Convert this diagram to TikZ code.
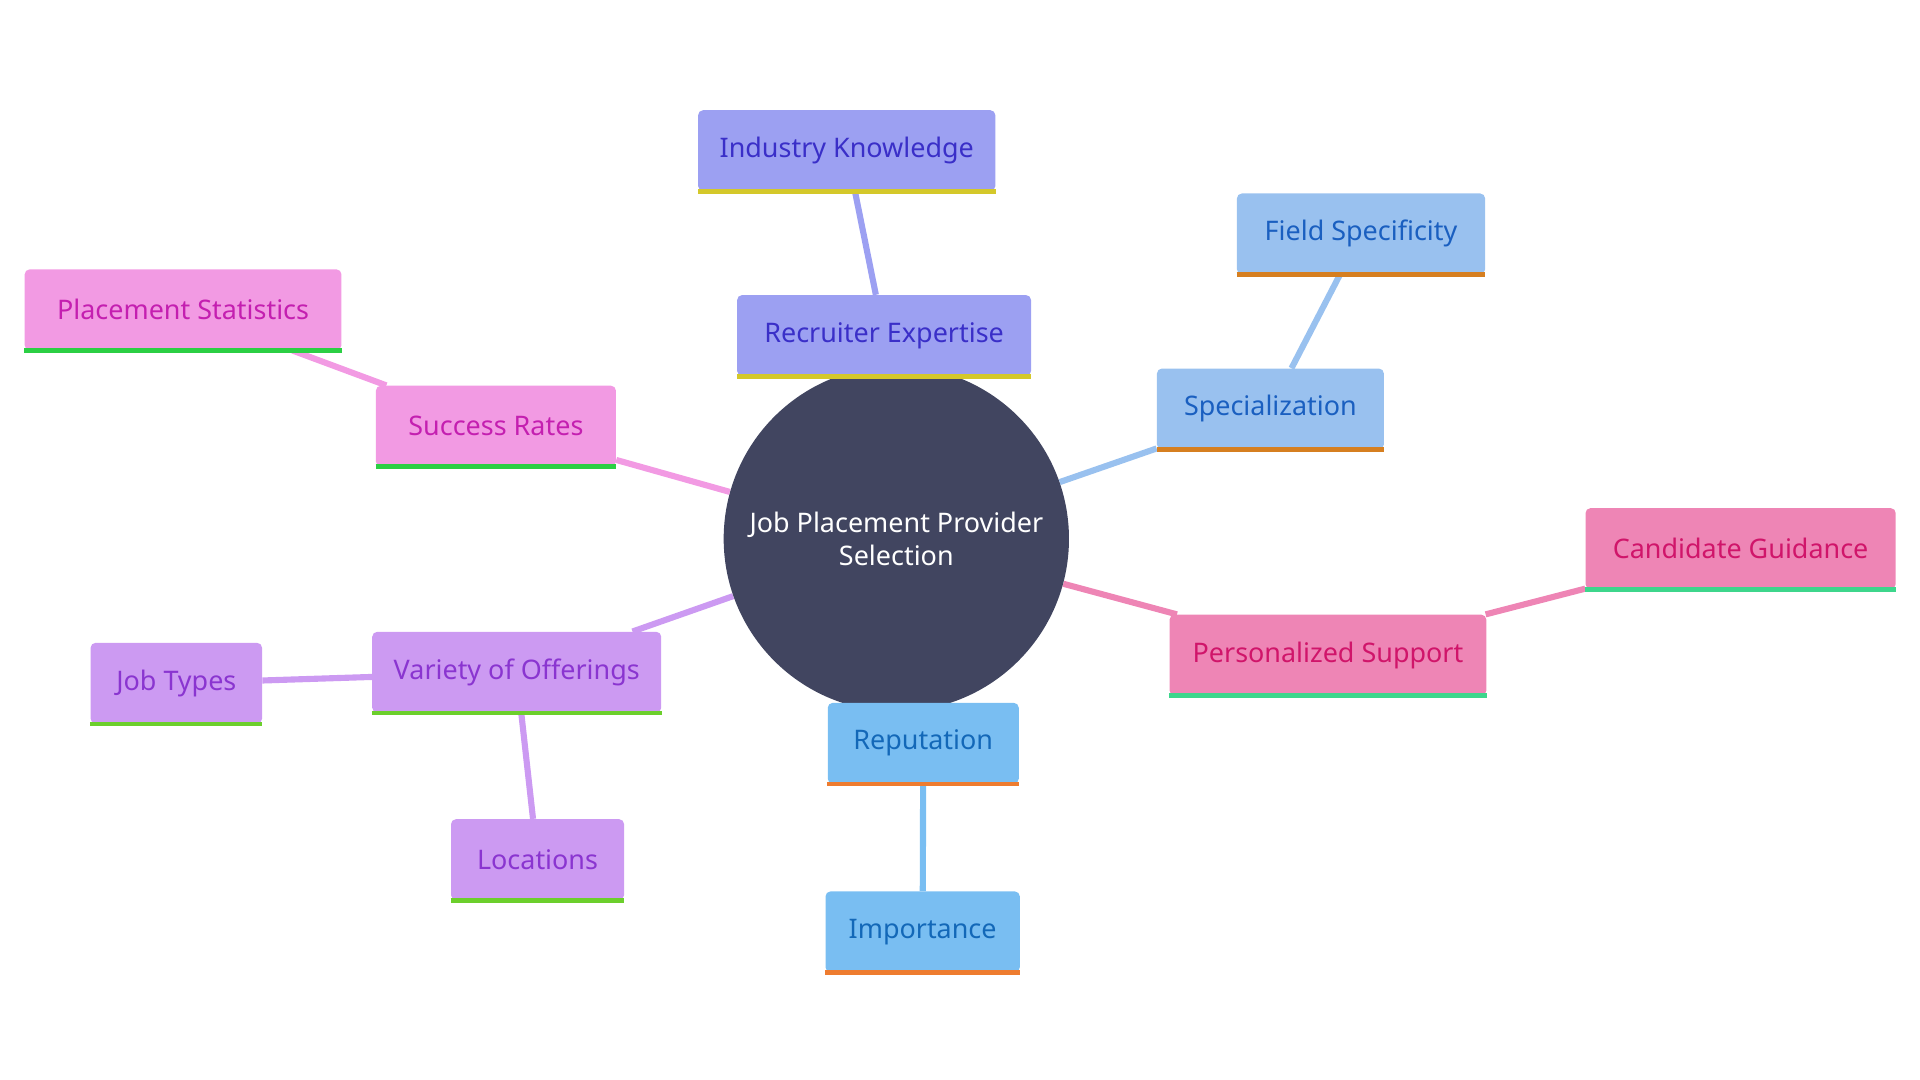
\documentclass[tikz,border=0pt]{standalone}
\usepackage{fontspec}
\setmainfont{Noto Sans}
\usetikzlibrary{backgrounds}
\definecolor{hub}{HTML}{414560}
\definecolor{bluF}{HTML}{9CA0F2}\definecolor{bluT}{HTML}{3A2FC8}\definecolor{bluL}{HTML}{D4C82A}
\definecolor{skyF}{HTML}{99C1EF}\definecolor{skyT}{HTML}{1A5FC0}\definecolor{skyL}{HTML}{D67F20}
\definecolor{pnkF}{HTML}{EE85B5}\definecolor{pnkT}{HTML}{D0156A}\definecolor{pnkL}{HTML}{3DD68C}
\definecolor{repF}{HTML}{79BEF2}\definecolor{repT}{HTML}{1368B8}\definecolor{repL}{HTML}{EE7C2F}
\definecolor{vioF}{HTML}{CC9AF2}\definecolor{vioT}{HTML}{8A35D0}\definecolor{vioL}{HTML}{6CCF2C}
\definecolor{magF}{HTML}{F29AE3}\definecolor{magT}{HTML}{C41FB0}\definecolor{magL}{HTML}{2BCF44}
\tikzset{
  box/.style n args={2}{rectangle,rounded corners=3pt,fill=#1,text=#2,minimum height=49.5pt,inner sep=0pt,font=\fontsize{16.5}{20}\selectfont},
  link/.style={line width=3.75pt,draw=#1},
  base/.style={line width=3pt,draw=#1}
}
\begin{document}
\begin{tikzpicture}[x=0.75pt,y=0.75pt,yscale=-1]
    \useasboundingbox (0,0) rectangle (1568,882);
    \node[circle,fill=hub,minimum size=211.5pt,text=white,align=center,font=\fontsize{16.5}{20}\selectfont] (hub) at (732,440) {Job Placement Provider\\Selection};

    \node[box={bluF}{bluT},minimum width=182pt] (know) at (691.5,123) {Industry Knowledge};
    \node[box={bluF}{bluT},minimum width=180pt] (recr) at (722,274) {Recruiter Expertise};
    \node[box={skyF}{skyT},minimum width=152pt] (field) at (1111.5,191) {Field Specificity};
    \node[box={skyF}{skyT},minimum width=139pt] (spec) at (1037.5,334) {Specialization};
    \node[box={pnkF}{pnkT},minimum width=190pt] (guide) at (1421.5,448) {Candidate Guidance};
    \node[box={pnkF}{pnkT},minimum width=194pt] (pers) at (1084.5,535) {Personalized Support};
    \node[box={repF}{repT},minimum width=117pt] (rep) at (754,607) {Reputation};
    \node[box={repF}{repT},minimum width=119pt] (imp) at (753.5,761) {Importance};
    \node[box={vioF}{vioT},minimum width=177pt] (var) at (422,549) {Variety of Offerings};
    \node[box={vioF}{vioT},minimum width=105pt] (jobs) at (144,558) {Job Types};
    \node[box={vioF}{vioT},minimum width=106pt] (loc) at (439,702) {Locations};
    \node[box={magF}{magT},minimum width=147pt] (succ) at (405,348) {Success Rates};
    \node[box={magF}{magT},minimum width=194pt] (stat) at (149.5,253) {Placement Statistics};

    % underlines
    \foreach \n/\c in {know/bluL,recr/bluL,field/skyL,spec/skyL,guide/pnkL,pers/pnkL,rep/repL,imp/repL,var/vioL,jobs/vioL,loc/vioL,succ/magL,stat/magL}
        \draw[base=\c] (\n.south west) -- (\n.south east);

    \begin{scope}[on background layer]
        \draw[link=bluF] (hub) -- (recr);
        \draw[link=bluF] (recr) -- (know);
        \draw[link=skyF] (hub) -- (spec);
        \draw[link=skyF] (spec) -- (field);
        \draw[link=pnkF] (hub) -- (pers);
        \draw[link=pnkF] (pers) -- (guide);
        \draw[link=repF] (hub) -- (rep);
        \draw[link=repF] (rep) -- (imp);
        \draw[link=vioF] (hub) -- (var);
        \draw[link=vioF] (var) -- (jobs);
        \draw[link=vioF] (var) -- (loc);
        \draw[link=magF] (hub) -- (succ);
        \draw[link=magF] (succ) -- (stat);
    \end{scope}
\end{tikzpicture}
\end{document}
